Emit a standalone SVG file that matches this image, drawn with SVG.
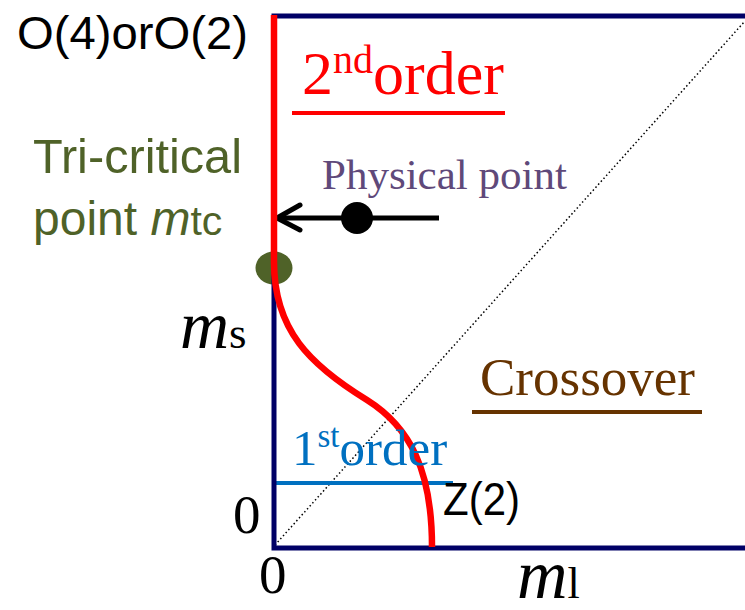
<svg xmlns="http://www.w3.org/2000/svg" width="745" height="610" viewBox="0 0 745 610">
<style>
.sans{font-family:"Liberation Sans",Arial,sans-serif}
.serif{font-family:"Liberation Serif","Times New Roman",serif}
</style>
<rect width="745" height="610" fill="#fff"/>
<g id="connectors">
<line x1="275" y1="545" x2="745" y2="21" stroke="#000" stroke-width="1.5" stroke-dasharray="1.5 2.5"/>
<line x1="276" y1="483" x2="453" y2="483" stroke="#0070c0" stroke-width="4"/>
<line x1="439" y1="218" x2="280" y2="218" stroke="#000" stroke-width="5"/>
<polyline points="300,205 277,218 300,230" fill="none" stroke="#000" stroke-width="5" stroke-linecap="round" stroke-linejoin="round"/>
<line x1="292" y1="113" x2="505" y2="113" stroke="#ff0000" stroke-width="4"/>
<line x1="472" y1="412" x2="702" y2="412" stroke="#663300" stroke-width="4"/>
</g>
<g id="tricritical-point"><ellipse cx="274" cy="268" rx="18.5" ry="16.5" fill="#4f6228"/></g>
<g id="frame"><path d="M745,16 H274 V548 H745" fill="none" stroke="#000066" stroke-width="5"/></g>
<g id="boundary"><path d="M274,15 V262 C274,330 310,365 367,400 C410,427 432,470 432,547" fill="none" stroke="#ff0000" stroke-width="6.5"/></g>
<g id="physical-point"><circle cx="357" cy="218" r="16" fill="#000"/>
<text x="322" y="189" class="serif" font-size="43" fill="#5f497a">Physical point</text></g>
<g id="labels">
<text x="17" y="49" class="sans" font-size="47" textLength="231" lengthAdjust="spacingAndGlyphs">O(4)orO(2)</text>
<text x="33" y="173" class="sans" font-size="48" fill="#4f6228" textLength="209" lengthAdjust="spacingAndGlyphs">Tri-critical</text>
<text x="33" y="235" class="sans" font-size="48" fill="#4f6228">point <tspan font-style="italic">m</tspan><tspan font-size="41">tc</tspan></text>
<text x="302" y="94" class="serif" font-size="62" fill="#ff0000">2<tspan font-size="40" dy="-21">nd</tspan><tspan dy="21">order</tspan></text>
<text x="480" y="395" class="serif" font-size="53" fill="#663300">Crossover</text>
<text x="292" y="465" class="serif" font-size="51" fill="#0070c0">1<tspan font-size="33" dy="-18">st</tspan><tspan dy="18">order</tspan></text>
<text x="443" y="515" class="sans" font-size="46" textLength="77" lengthAdjust="spacingAndGlyphs">Z(2)</text>
<text x="180" y="348" class="serif" font-size="68"><tspan font-style="italic">m</tspan><tspan font-size="45">s</tspan></text>
<text x="233" y="533" class="serif" font-size="55">0</text>
<text x="259" y="593" class="serif" font-size="55">0</text>
<text x="517" y="598" class="serif" font-size="70"><tspan font-style="italic">m</tspan><tspan font-size="44">l</tspan></text>
</g>
</svg>
